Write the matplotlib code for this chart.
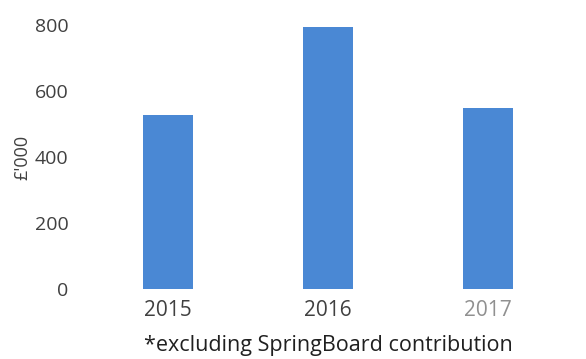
import matplotlib.pyplot as plt

years = ['2015', '2016', '2017']
values = [527, 794, 548]
yticks = [0, 200, 400, 600, 800]

plt.rcParams['font.family'] = ['Open Sans', 'DejaVu Sans']

fig = plt.figure(figsize=(5.86, 3.59), dpi=100)
ax = fig.add_axes([88 / 586, 70 / 359, 498 / 586, 289 / 359])

x = range(len(years))
ax.bar(x, values, width=0.31, color='#4a88d4')

ax.set_xlim(-0.5, 2.6125)
ax.set_ylim(0, 875.8)
ax.set_yticks(yticks)
ax.set_xticks(list(x))
ax.set_xticklabels(years)
ax.tick_params(axis='y', length=0, labelsize=14, colors='#404040', pad=14)
ax.tick_params(axis='x', length=0, labelsize=15, colors='#404040', pad=8)
ax.get_xticklabels()[2].set_color('#909090')
for s in ax.spines.values():
    s.set_visible(False)

fig.text(22 / 586, 1 - 157 / 359, "£'000", rotation=90, ha='center', va='center',
         fontsize=13, color='#404040')
fig.text(328 / 586, 1 - 345 / 359, '*excluding SpringBoard contribution',
         ha='center', va='center', fontsize=15.5, color='#202020')

fig.savefig('out.png', dpi=100)
